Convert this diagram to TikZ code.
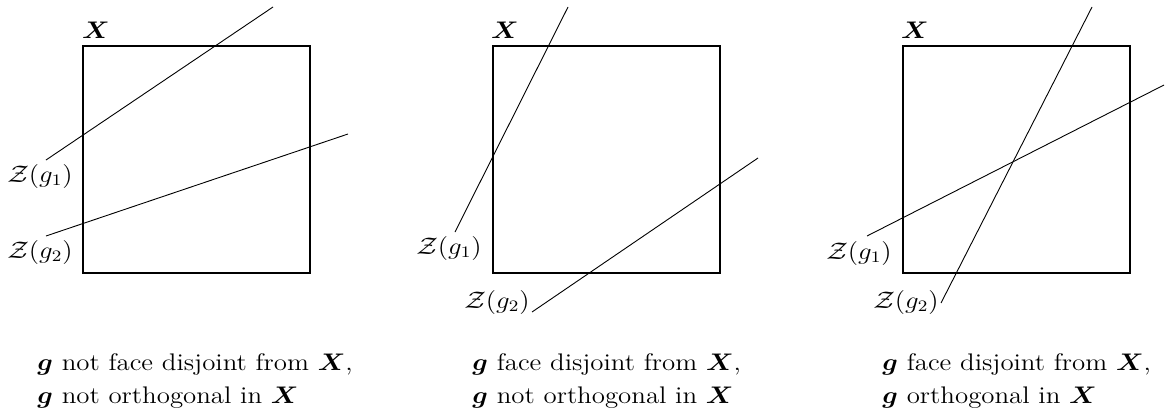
\documentclass[tikz,border=0pt]{standalone}
\usepackage{amsmath,bm,graphicx}
\newcommand{\wideT}[1]{\scalebox{1.12}[1]{#1}}
\begin{document}
\begin{tikzpicture}[x=0.5pt,y=-0.5pt,
  sq/.style={draw, line width=1pt, minimum width=113.5pt, minimum height=113.5pt, inner sep=0pt},
  zline/.style={line width=0.45pt},
  lbl/.style={inner sep=0pt, font=\fontsize{12}{14}\selectfont},
  capt/.style={inner sep=0pt, anchor=base west, font=\fontsize{12}{14}\selectfont}]
\useasboundingbox (0,0) rectangle (1165,418);
% ---------- panel 1
\node[sq] (X1) at (196.5,159.5) {};
\node[lbl] (xl1) at (96,30) {\wideT{$\bm{X}$}};
\node[lbl] (z11) at (40,176) {\wideT{$\mathcal{Z}(g_1)$}};
\node[lbl] (z12) at (40,252) {\wideT{$\mathcal{Z}(g_2)$}};
\coordinate (p1a) at (46,160); \coordinate (p1b) at (273,7);
\coordinate (p1c) at (46,236); \coordinate (p1d) at (348,134);
\draw[zline] (p1a) -- (p1b);
\draw[zline] (p1c) -- (p1d);
\node[capt] (c11) at (37,370) {\wideT{$\bm{g}$ not face disjoint from $\bm{X}$,}};
\node[capt] (c12) at (37,403) {\wideT{$\bm{g}$ not orthogonal in $\bm{X}$}};
% ---------- panel 2
\node[sq] (X2) at (606.5,159.5) {};
\node[lbl] (xl2) at (505,30) {\wideT{$\bm{X}$}};
\node[lbl] (z21) at (449,248) {\wideT{$\mathcal{Z}(g_1)$}};
\node[lbl] (z22) at (497,302) {\wideT{$\mathcal{Z}(g_2)$}};
\coordinate (p2a) at (455,232); \coordinate (p2b) at (568,7);
\coordinate (p2c) at (532,312); \coordinate (p2d) at (758,158);
\draw[zline] (p2a) -- (p2b);
\draw[zline] (p2c) -- (p2d);
\node[capt] (c21) at (472,370) {\wideT{$\bm{g}$ face disjoint from $\bm{X}$,}};
\node[capt] (c22) at (472,403) {\wideT{$\bm{g}$ not orthogonal in $\bm{X}$}};
% ---------- panel 3
\node[sq] (X3) at (1016.5,159.5) {};
\node[lbl] (xl3) at (915,30) {\wideT{$\bm{X}$}};
\node[lbl] (z31) at (859,253) {\wideT{$\mathcal{Z}(g_1)$}};
\node[lbl] (z32) at (906,302) {\wideT{$\mathcal{Z}(g_2)$}};
\coordinate (p3a) at (867,236); \coordinate (p3b) at (1164,85);
\coordinate (p3c) at (941,303); \coordinate (p3d) at (1092,7);
\draw[zline] (p3a) -- (p3b);
\draw[zline] (p3c) -- (p3d);
\node[capt] (c31) at (882,370) {\wideT{$\bm{g}$ face disjoint from $\bm{X}$,}};
\node[capt] (c32) at (882,403) {\wideT{$\bm{g}$ orthogonal in $\bm{X}$}};
\end{tikzpicture}
\end{document}
